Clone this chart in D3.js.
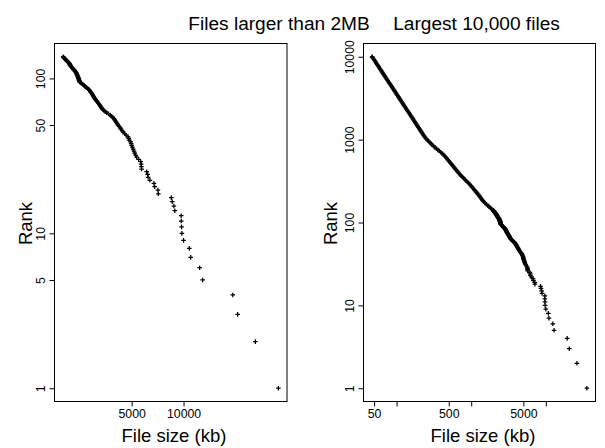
<!DOCTYPE html>
<html><head><meta charset="utf-8">
<script src="https://cdn.jsdelivr.net/npm/d3@7"></script>
<style>
body{margin:0;background:#fff}
text{font-family:"Liberation Sans",Arial,Helvetica,sans-serif;fill:#000}
</style>
</head><body>
<svg id="chart" width="605" height="448"></svg>
<script>
// ---- data ----
const titles = ["Files larger than 2MB", "Largest 10,000 files"];
const xLabel = "File size (kb)";
const yLabel = "Rank";

// sizes (kb) of the files larger than 2MB, by rank 1..138
const bigSizes = [
  35500,26100,20600,19300,12900,12400,11000,10800,10000,9780,
  9740,9700,9690,8900,8790,8600,8490,7140,7100,6800,
  6730,6380,6230,6190,6110,5710,5690,5675,5640,5490,
  5350,5275,5205,5156,5100,5047,5000,4967,4934,4836,
  4800,4760,4650,4550,4465,4400,4340,4290,4230,4166,
  4120,4075,4035,3990,3944,3880,3815,3754,3670,3583,
  3520,3460,3397,3360,3330,3300,3270,3240,3210,3178,
  3150,3120,3090,3060,3034,3015,2995,2975,2955,2934,
  2910,2888,2865,2842,2818,2780,2740,2705,2680,2655,
  2620,2590,2555,2525,2493,2487,2480,2473,2466,2460,
  2452,2443,2434,2426,2417,2407,2398,2388,2379,2369,
  2353,2338,2322,2307,2292,2277,2262,2247,2232,2217,
  2208,2199,2190,2182,2173,2159,2145,2130,2116,2102,
  2088,2074,2060,2047,2033,2020,2010,2001
];

// remaining files of the largest 10,000 (read along the dense band)
const denseRanks = [
  140,145,150,155,160,166,172,178,184,190,197,204,211,218,226,234,242,250,259,268,
  278,288,298,308,319,330,342,354,366,379,392,406,420,435,450,466,482,499,516,534,
  553,572,592,613,634,656,679,703,728,753,780,807,835,864,894,925,958,991,1026,1062,
  1099,1137,1177,1218,1261,1305,1350,1398,1447,1497,1550,1604,1660,1718,1778,1840,1905,1971,2040,2112,
  2186,2262,2341,2423,2508,2596,2687,2781,2878,2979,3083,3191,3303,3418,3538,3662,3790,3922,4060,4202,
  4349,4501,4659,4822,4990,5165,5346,5533,5727,5927,6135,6349,6572,6802,7040,7286,7541,7805,8079,8361,
  8654,8957,9270,9595,9930,10000
];
const denseSizes = [
  1966,1884,1808,1738,1672,1599,1531,1464,1428,1390,1350,1312,1275,1240,1199,1162,1127,1094,1059,1026,
  992,958,923,890,856,825,793,764,736,709,687,665,645,624,605,586,568,550,533,517,
  500,485,470,455,441,427,409,391,374,358,342,327,313,299,289,278,268,258,248.5,241,
  235,229,224,218,213,207,202,197,192,188,183,178,174,170,165.5,161.4,157.4,153.5,149.7,146,
  142.3,138.9,135.4,132.1,128.8,125.6,122.5,119.5,116.5,113.6,110.8,108.1,105.4,102.8,100.2,97.7,95.3,92.9,90.7,88.4,
  86.2,84.1,82,80,78,76,74.2,72.3,70.5,68.8,67.1,65.4,63.8,62.2,60.7,59.2,57.7,56.3,54.9,53.5,
  52.2,50.9,49.7,48.4,47.2,47
];

const leftXTicks = [5000, 10000];
const leftXTickLabels = ["5000", "10000"];
const leftYTicks = [1, 5, 10, 50, 100];
const leftYTickLabels = ["1", "5", "10", "50", "100"];
const rightXTicks = [50, 100, 500, 1000, 5000, 10000];
const rightXTickLabels = ["50", "", "500", "", "5000", ""];
const rightYTicks = [1, 10, 100, 1000, 10000];
const rightYTickLabels = ["1", "10", "100", "1000", "10000"];

// ---- build ----
const leftData = bigSizes.map((s, i) => ({rank: i + 1, size: s}));
const rightData = leftData.concat(denseRanks.map((r, i) => ({rank: r, size: denseSizes[i]})));

const svg = d3.select("#chart");
svg.append("rect").attr("width", 605).attr("height", 448).attr("fill", "#fff");

function logPad(ext) {
  const a = Math.log10(ext[0]), b = Math.log10(ext[1]), p = (b - a) * 0.04;
  return [Math.pow(10, a - p), Math.pow(10, b + p)];
}

function panel(data, box, xt, xtl, yt, ytl, opts) {
  const x = d3.scaleLog().domain(logPad(d3.extent(data, d => d.size))).range([box.x0, box.x1]);
  const y = d3.scaleLog().domain(logPad([1, d3.max(data, d => d.rank)])).range([box.y1, box.y0]);
  const g = svg.append("g");

  // points
  g.append("g").selectAll("path").data(data).join("path")
    .attr("transform", d => `translate(${x(d.size)},${y(d.rank)})`)
    .attr("d", "M-2.3,0H2.3M0,-2.3V2.3")
    .attr("stroke", "#000").attr("stroke-width", 1.25).attr("fill", "none");

  // x axis
  const xa = g.append("g").attr("transform", `translate(0,${box.y1})`)
    .call(d3.axisBottom(x).tickValues(xt).tickFormat((d, i) => xtl[i]).tickSize(5).tickSizeOuter(0));
  xa.select(".domain").remove();
  xa.selectAll("line").attr("stroke", "#000");
  xa.selectAll("text").attr("y", 16).attr("dy", 0).attr("font-size", 12.3);

  // y axis
  const ya = g.append("g").attr("transform", `translate(${box.x0},0)`)
    .call(d3.axisLeft(y).tickValues(yt).tickFormat((d, i) => ytl[i]).tickSize(5).tickSizeOuter(0));
  ya.select(".domain").remove();
  ya.selectAll("line").attr("stroke", "#000");
  ya.selectAll(".tick text")
    .attr("x", null).attr("dy", null)
    .attr("text-anchor", "middle").attr("font-size", 12.3)
    .attr("transform", "translate(-9.5,0) rotate(-90)");

  // frame
  g.append("rect").attr("x", box.x0).attr("y", box.y0)
    .attr("width", box.x1 - box.x0).attr("height", box.y1 - box.y0)
    .attr("fill", "none").attr("stroke", "#000").attr("stroke-width", 1);

  // labels
  g.append("text").attr("x", opts.xlabX).attr("y", 441.5)
    .attr("text-anchor", "middle").attr("font-size", 18.5).text(xLabel);
  g.append("text")
    .attr("transform", `translate(${opts.ylabX},${(box.y0 + box.y1) / 2 + 1}) rotate(-90)`)
    .attr("text-anchor", "middle").attr("font-size", 18.5).text(yLabel);
}

panel(leftData, {x0: 54.5, x1: 287, y0: 43.5, y1: 401.5},
  leftXTicks, leftXTickLabels, leftYTicks, leftYTickLabels, {xlabX: 174, ylabX: 32});
panel(rightData, {x0: 363.5, x1: 595.5, y0: 43.5, y1: 401.5},
  rightXTicks, rightXTickLabels, rightYTicks, rightYTickLabels, {xlabX: 483, ylabX: 337});

svg.append("text").attr("x", 279).attr("y", 30).attr("text-anchor", "middle")
  .attr("font-size", 19.1).text(titles[0]);
svg.append("text").attr("x", 476.5).attr("y", 30).attr("text-anchor", "middle")
  .attr("font-size", 19.1).text(titles[1]);
</script>
</body></html>
